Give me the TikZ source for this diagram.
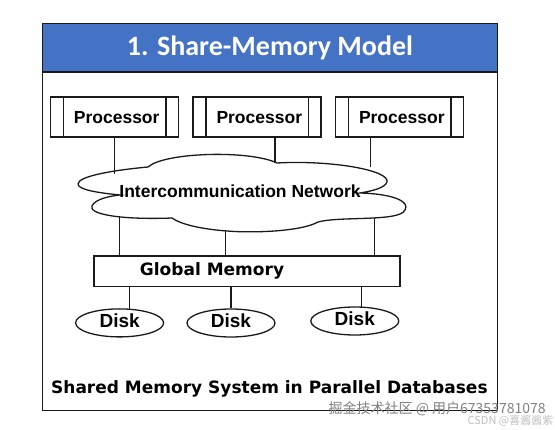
\documentclass[tikz,border=0pt]{standalone}
\usepackage{fontspec}
\newfontfamily\helv{Liberation Sans}
\newfontfamily\dejavu{DejaVu Sans}
\newfontfamily\calib{Carlito}
\newfontfamily\cjk{Noto Sans CJK SC}
\usetikzlibrary{shapes.geometric}
\definecolor{titleblue}{HTML}{4472C4}
\definecolor{inkline}{HTML}{1A1A1A}
\begin{document}
\begin{tikzpicture}[x=1pt,y=-1pt,line width=1.3pt,draw=inkline,
    procbox/.style={draw,minimum width=128pt,minimum height=40pt,inner sep=0pt,
      text height=14pt,text depth=1.4pt,font=\helv\bfseries\fontsize{17.5}{20}\selectfont},
    diskbox/.style={draw,ellipse,minimum width=88pt,minimum height=28pt,inner sep=0pt,
      text height=13.6pt,text depth=5pt,font=\helv\bfseries\fontsize{19}{22}\selectfont},
    wire/.style={line width=1.3pt}]
  \useasboundingbox (0,0) rectangle (555,430);
  % frame and title bar
  \fill[titleblue] (42.5,23.5) rectangle (497.3,72);
  \draw[line width=1.6pt] (42.5,23.5) rectangle (497.3,410.7);
  \draw[line width=1.6pt] (42.5,72) -- (497.3,72);
  \node[anchor=base,text=white,font=\calib\bfseries\fontsize{28}{32}\selectfont] (title) at (270,56) {1. Share-Memory Model};
  % processors
  \foreach \i/\x in {1/114.4,2/257,3/399.5} {
    \node[procbox] (p\i) at (\x,117) {\hspace*{4.6pt}Processor};
    \draw ([xshift=13.6pt]p\i.north west) -- ([xshift=13.6pt]p\i.south west);
    \draw ([xshift=-13.2pt]p\i.north east) -- ([xshift=-13.2pt]p\i.south east);
  }
  % network cloud
  \draw (120,195) .. controls (100,193) and (78,190) .. (78,184)
    .. controls (78,176) and (115,170) .. (148,167)
    .. controls (165,152) and (250,150) .. (277,163)
    .. controls (330,160) and (390,170) .. (387,182)
    .. controls (385,188) and (372,191) .. (360,193)
    .. controls (395,194) and (410,202) .. (405,210)
    .. controls (400,222) and (340,216) .. (318,222)
    .. controls (300,232) and (250,233) .. (227,231)
    .. controls (200,229) and (180,224) .. (172,218)
    .. controls (120,220) and (88,214) .. (92,206)
    .. controls (95,199) and (110,196) .. (120,195) -- cycle;
  \node[anchor=base,font=\helv\bfseries\fontsize{17.5}{20}\selectfont] (net) at (240,197.3) {Intercommunication Network};
  \coordinate (net-p1) at (114.4,174);
  \coordinate (net-p2) at (275,163);
  \coordinate (net-p3) at (370.6,167.5);
  \coordinate (net-m1) at (119.6,216.5);
  \coordinate (net-m2) at (225.8,231);
  \coordinate (net-m3) at (374.5,218);
  \draw[wire] (p1.south) -- (net-p1);
  \draw[wire] (p2.south -| net-p2) -- (net-p2);
  \draw[wire] (p3.south -| net-p3) -- (net-p3);
  % global memory
  \node[draw,minimum width=306pt,minimum height=30.5pt,inner sep=0pt] (gmem) at (246.9,271.3) {};
  \node[anchor=base,font=\dejavu\bfseries\fontsize{17}{20}\selectfont] (gmem-label) at (212,276) {Global Memory};
  \foreach \i in {1,2,3}
    \draw[wire] (net-m\i) -- (net-m\i |- gmem.north);
  % disks
  \node[diskbox] (d1) at (119.6,322.9) {Disk};
  \node[diskbox] (d2) at (231,323) {Disk};
  \node[diskbox] (d3) at (354.8,321) {Disk};
  \draw[wire] (gmem.south -| 129.2,0) -- (129.2,309.5);
  \draw[wire] (gmem.south -| d2.north) -- (d2.north);
  \draw[wire] (gmem.south -| 361.8,0) -- (361.8,307.5);
  % caption
  \node[anchor=base,font=\dejavu\bfseries\fontsize{17}{20}\selectfont] (caption) at (269.4,393.3) {Shared Memory System in Parallel Databases};
  % watermarks
  \node[anchor=base west,inner sep=0pt,text=black!50,font=\cjk\fontsize{14}{16}\selectfont] (mark) at (328,414) {掘金技术社区 @ 用户67353781078};
  \node[anchor=base west,inner sep=0pt,text=black!25,font=\cjk\fontsize{11}{13}\selectfont] (csdn) at (467,424.5) {CSDN @喜酱酱紫};
\end{tikzpicture}
\end{document}
